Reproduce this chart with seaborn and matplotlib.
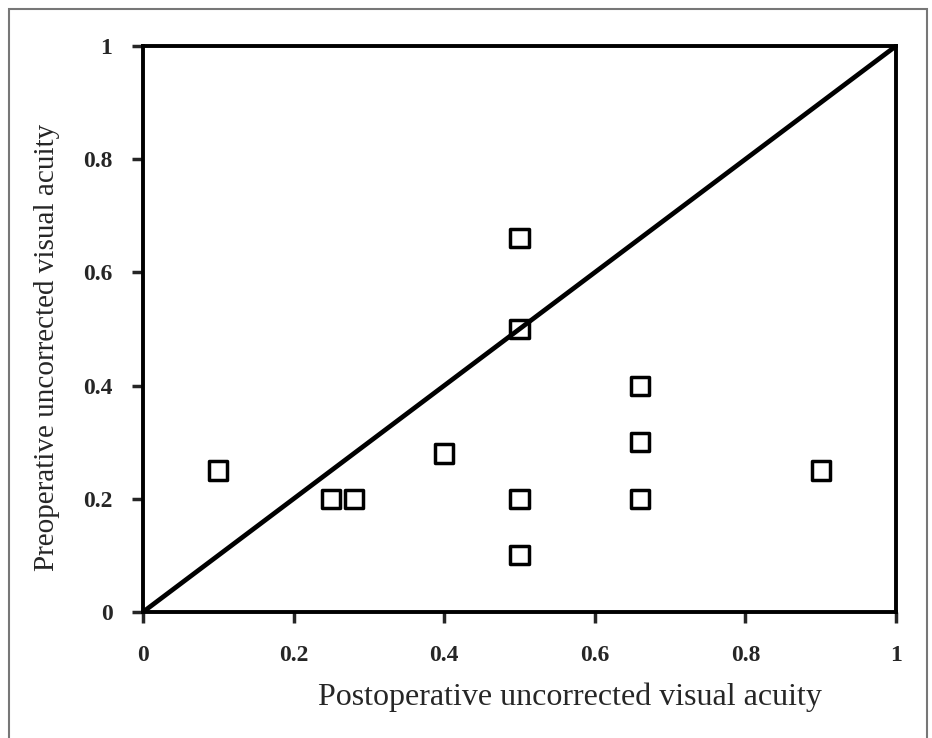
import matplotlib
matplotlib.use("Agg")
import matplotlib.pyplot as plt
import seaborn as sns
import pandas as pd
from matplotlib.patches import Rectangle

# data
postop_ucva = [0.1, 0.25, 0.28, 0.4, 0.5, 0.5, 0.5, 0.5, 0.66, 0.66, 0.66, 0.9]
preop_ucva = [0.25, 0.2, 0.2, 0.28, 0.66, 0.5, 0.2, 0.1, 0.4, 0.3, 0.2, 0.25]
identity_x = [0, 1]
identity_y = [0, 1]
tick_values = [0, 0.2, 0.4, 0.6, 0.8, 1]
tick_labels = ["0", "0.2", "0.4", "0.6", "0.8", "1"]

df = pd.DataFrame({"post": postop_ucva, "pre": preop_ucva})

sns.set_style("white")
plt.rcParams["font.family"] = ["Liberation Serif", "DejaVu Serif"]

fig = plt.figure(figsize=(9.32, 7.38), dpi=100)
ax = fig.add_axes([143 / 932, 1 - 612 / 738, 753 / 932, 566 / 738])

# outer frame of the figure
fig.patches.append(Rectangle((9 / 932, -0.01), 918 / 932, 1 - 9 / 738 + 0.01,
                             transform=fig.transFigure, fill=False,
                             edgecolor="#777777", linewidth=1.5))

sns.lineplot(x=identity_x, y=identity_y, ax=ax, color="black", linewidth=3.4)
sns.scatterplot(data=df, x="post", y="pre", ax=ax, marker="s", s=170,
                facecolor="none", edgecolor="black", linewidth=2.5, zorder=5)

ax.set_xlim(0, 1)
ax.set_ylim(0, 1)
ax.set_xticks(tick_values, tick_labels)
ax.set_yticks(tick_values, tick_labels)
ax.tick_params(axis="x", direction="out", length=8, width=2.5, pad=16,
               bottom=True, labelsize=17)
ax.tick_params(axis="y", direction="out", length=8, width=2.5, pad=14,
               left=True, labelsize=17)
for lab in ax.get_xticklabels() + ax.get_yticklabels():
    lab.set_fontweight("bold")

for sp in ax.spines.values():
    sp.set_linewidth(2.8)
    sp.set_color("black")

ax.set_xlabel("Postoperative uncorrected visual acuity", fontsize=23)
ax.set_ylabel("Preoperative uncorrected visual acuity", fontsize=21)
ax.xaxis.set_label_coords((570 - 143) / 753, (612 - 683) / 566)
ax.yaxis.set_label_coords((60 - 143) / 753, (612 - 347) / 566)

fig.savefig("out.png", dpi=100)
